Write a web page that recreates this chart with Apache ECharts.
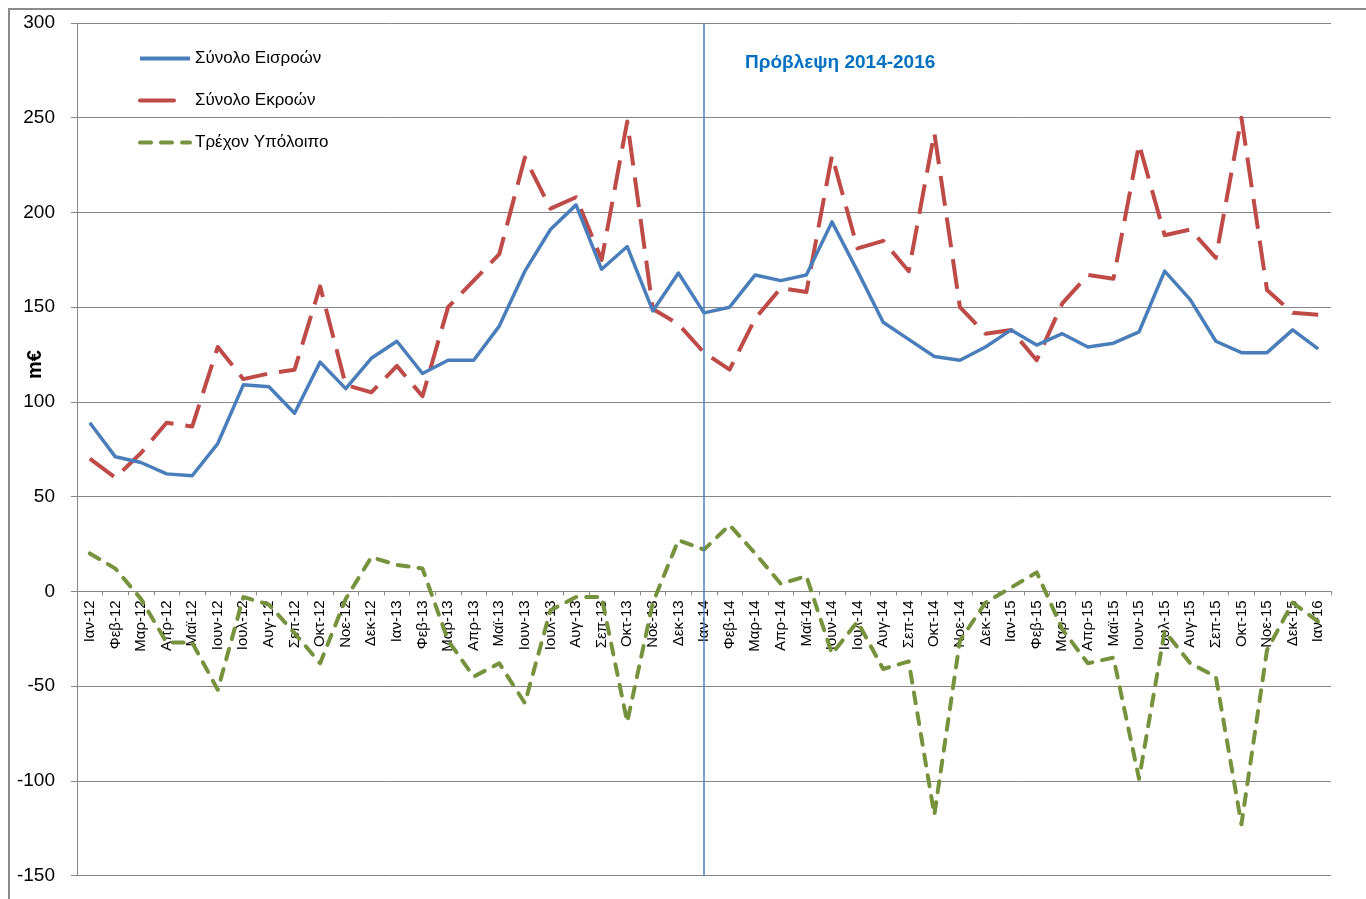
<!DOCTYPE html>
<html>
<head>
<meta charset="utf-8">
<title>Εισροές - Εκροές</title>
<script src="https://cdn.jsdelivr.net/npm/echarts@6/dist/echarts.min.js"></script>
<style>
  html, body { margin: 0; padding: 0; background: #fff; }
  #chart { width: 1366px; height: 899px; }
</style>
</head>
<body>
<div id="chart"></div>
<script>
const categories = [
  'Ιαν-12', 'Φεβ-12', 'Μαρ-12', 'Απρ-12', 'Μαϊ-12', 'Ιουν-12', 'Ιουλ-12', 'Αυγ-12', 'Σεπ-12', 'Οκτ-12', 'Νοε-12', 'Δεκ-12',
  'Ιαν-13', 'Φεβ-13', 'Μαρ-13', 'Απρ-13', 'Μαϊ-13', 'Ιουν-13', 'Ιουλ-13', 'Αυγ-13', 'Σεπ-13', 'Οκτ-13', 'Νοε-13', 'Δεκ-13',
  'Ιαν-14', 'Φεβ-14', 'Μαρ-14', 'Απρ-14', 'Μαϊ-14', 'Ιουν-14', 'Ιουλ-14', 'Αυγ-14', 'Σεπ-14', 'Οκτ-14', 'Νοε-14', 'Δεκ-14',
  'Ιαν-15', 'Φεβ-15', 'Μαρ-15', 'Απρ-15', 'Μαϊ-15', 'Ιουν-15', 'Ιουλ-15', 'Αυγ-15', 'Σεπ-15', 'Οκτ-15', 'Νοε-15', 'Δεκ-15',
  'Ιαν-16'
]

// Σύνολο Εισροών (m€)
const inflows = [
  89, 71, 68, 62, 61, 78, 109, 108, 94, 121, 107, 123,
  132, 115, 122, 122, 140, 169, 191, 204, 170, 182, 148, 168,
  147, 150, 167, 164, 167, 195, 169, 142, 133, 124, 122, 129,
  138, 130, 136, 129, 131, 137, 169, 154, 132, 126, 126, 138,
  128
]

// Σύνολο Εκροών (m€)
const outflows = [
  70, 60, 73, 89, 87, 129, 112, 115, 117, 161, 109, 105,
  119, 103, 150, 164, 178, 229, 202, 208, 175, 248, 149, 141,
  126, 117, 144, 160, 158, 230, 181, 185, 169, 242, 150, 136,
  138, 122, 152, 167, 165, 236, 188, 191, 176, 250, 159, 147,
  146
]

// Τρέχον Υπόλοιπο (m€)
const balance = [
  20, 12, -4, -27, -27, -52, -3, -7, -22, -38, -4, 18,
  14, 12, -26, -45, -38, -59, -10, -3, -3, -69, -6, 27,
  22, 35, 20, 4, 8, -33, -16, -41, -37, -118, -26, -6,
  2, 10, -20, -38, -35, -99, -21, -38, -45, -123, -31, -6,
  -16
]

const yTicks = { min: -150, max: 300, step: 50 }
const forecastStart = 'Ιαν-14'
const forecastLabel = 'Πρόβλεψη 2014-2016'

const font = '"Liberation Sans", Arial, sans-serif'
const axisGray = '#868686'
const blue = '#4A7EBB'
const red = '#BE4B48'
const green = '#76923C'

const gridTop = 23
const gridBottom = 23.5
const chartHeight = 899

// category axis sits on the zero line, moved up from the grid bottom by offset
const plotHeight = chartHeight - gridTop - gridBottom
const zeroOffset = -plotHeight * (0 - yTicks.min) / (yTicks.max - yTicks.min)

const myEcharts = echarts.init(document.getElementById('chart'), null, { renderer: 'canvas' })

myEcharts.setOption({
  animation: false,
  backgroundColor: '#fff',
  textStyle: { fontFamily: font },
  grid: {
    left: 77,
    right: 35,
    top: gridTop,
    bottom: gridBottom,
    containLabel: false,
    outerBoundsMode: 'none'
  },
  legend: {
    orient: 'vertical',
    left: 138,
    top: 50,
    padding: 0,
    itemWidth: 50,
    itemHeight: 14,
    itemGap: 25,
    selectedMode: false,
    itemStyle: { opacity: 0 },
    textStyle: { fontSize: 17, color: '#000', fontFamily: font },
    data: [
      { name: 'Σύνολο Εισροών', lineStyle: { width: 4, color: blue } },
      { name: 'Σύνολο Εκροών', lineStyle: { width: 4, color: red, type: [34, 20], cap: 'round' } },
      { name: 'Τρέχον Υπόλοιπο', lineStyle: { width: 4, color: green, type: [11, 10], cap: 'round' } }
    ]
  },
  xAxis: {
    type: 'category',
    data: categories,
    boundaryGap: true,
    offset: zeroOffset,
    axisLine: { onZero: false, lineStyle: { color: axisGray, width: 1 } },
    axisTick: { show: true, interval: 0, length: 4, lineStyle: { color: axisGray } },
    axisLabel: {
      interval: 0,
      rotate: 90,
      margin: 9,
      fontSize: 15,
      color: '#000',
      fontFamily: font
    },
    splitLine: { show: false }
  },
  yAxis: {
    type: 'value',
    min: yTicks.min,
    max: yTicks.max,
    interval: yTicks.step,
    axisLine: { show: true, lineStyle: { color: axisGray, width: 1 } },
    axisTick: { show: true, length: 6, inside: false, lineStyle: { color: axisGray } },
    axisLabel: { fontSize: 19, color: '#000', margin: 22, fontFamily: font },
    splitLine: { show: true, lineStyle: { color: axisGray, width: 1 } }
  },
  series: [
    {
      name: 'Σύνολο Εισροών',
      type: 'line',
      data: inflows,
      symbol: 'none',
      color: blue,
      lineStyle: { width: 3.5, color: blue, join: 'round' },
      z: 4,
      markLine: {
        silent: true,
        symbol: ['none', 'none'],
        label: { show: false },
        lineStyle: { type: 'solid', color: blue, width: 1.5 },
        data: [{ xAxis: forecastStart }]
      }
    },
    {
      name: 'Σύνολο Εκροών',
      type: 'line',
      data: outflows,
      symbol: 'none',
      color: red,
      lineStyle: { width: 4, color: red, type: [30, 12], cap: 'butt', join: 'round' },
      z: 3
    },
    {
      name: 'Τρέχον Υπόλοιπο',
      type: 'line',
      data: balance,
      symbol: 'none',
      color: green,
      lineStyle: { width: 4, color: green, type: [11, 10], cap: 'round', join: 'round' },
      z: 2
    }
  ],
  graphic: [
    {
      // outer frame of the embedded chart
      type: 'polyline',
      silent: true,
      shape: { points: [[9, 899], [9, 9], [1366, 9]] },
      style: { stroke: '#8a8a8a', lineWidth: 2, fill: null }
    },
    {
      type: 'text',
      left: 745,
      top: 53,
      silent: true,
      style: {
        text: forecastLabel,
        fill: '#0070C0',
        font: 'bold 19px ' + font
      }
    },
    {
      type: 'text',
      x: 25,
      y: 379,
      rotation: Math.PI / 2,
      silent: true,
      style: {
        text: 'm€',
        fill: '#000',
        font: 'bold 20px ' + font
      }
    }
  ]
})
</script>
</body>
</html>
